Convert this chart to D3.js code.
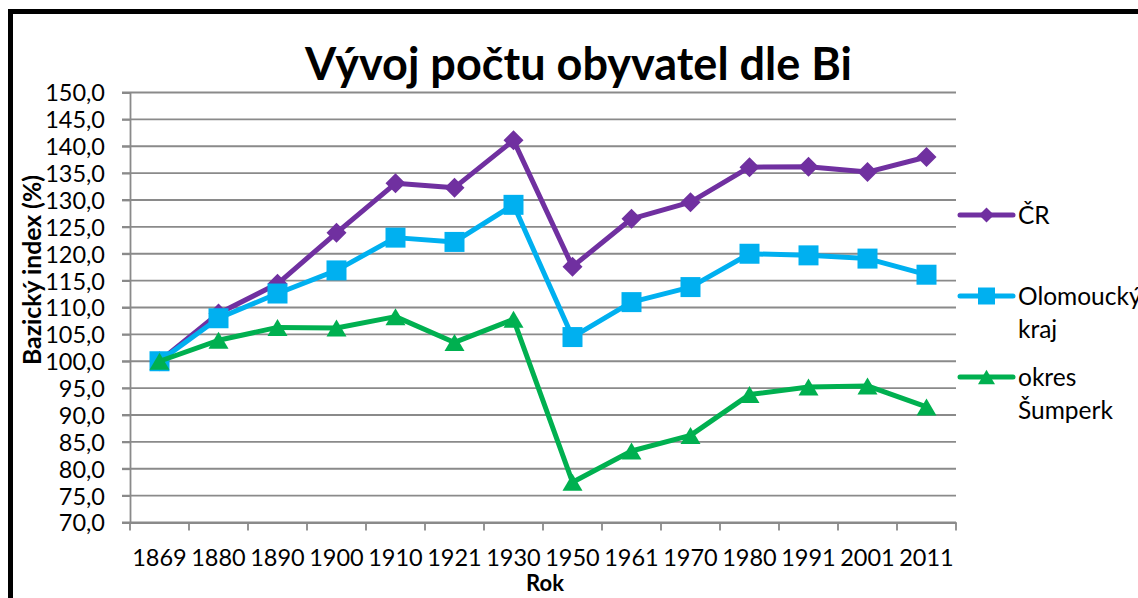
<!DOCTYPE html>
<html>
<head>
<meta charset="utf-8">
<script src="https://cdn.jsdelivr.net/npm/d3@7"></script>
<style>
  html, body { margin: 0; padding: 0; background: #fff; }
  svg { display: block; }
  text { font-family: Lato, "Open Sans", sans-serif; fill: #000; }
</style>
</head>
<body>
<svg id="chart" width="1138" height="598"></svg>
<script>
const years = ["1869","1880","1890","1900","1910","1921","1930","1950","1961","1970","1980","1991","2001","2011"];
const crValues = [100, 108.9, 114.4, 123.9, 133.1, 132.3, 141.1, 117.6, 126.5, 129.6, 136.1, 136.2, 135.2, 138.0];
const olomouckyValues = [100, 108.0, 112.6, 116.9, 123.0, 122.2, 129.1, 104.5, 111.0, 113.8, 120.0, 119.7, 119.1, 116.1];
const sumperkValues = [100, 103.9, 106.3, 106.2, 108.3, 103.5, 107.8, 77.5, 83.3, 86.2, 93.8, 95.2, 95.4, 91.5];
const yTicks = [70,75,80,85,90,95,100,105,110,115,120,125,130,135,140,145,150];
const seriesNames = [["ČR"], ["Olomoucký", "kraj"], ["okres", "Šumperk"]];
const seriesColors = ["#7030A0", "#00B0F0", "#00B050"];
const seriesShapes = ["diamond", "square", "triangle"];
const titleText = "Vývoj počtu obyvatel dle Bi";
const yTitle = "Bazický index (%)";
const xTitle = "Rok";

const series = [crValues, olomouckyValues, sumperkValues].map((v, i) => ({
  name: seriesNames[i], color: seriesColors[i], shape: seriesShapes[i], values: v
}));

const svg = d3.select("#chart");
const plot = { left: 130, right: 956, top: 92.5, bottom: 522.5 };

const x = d3.scaleBand().domain(years).range([plot.left, plot.right]);
const y = d3.scaleLinear().domain([70, 150]).range([plot.bottom, plot.top]);
const cx = d => x(d) + x.bandwidth() / 2;

const fmt = v => d3.format(".1f")(v).replace(".", ",");

// border
svg.append("rect").attr("x", 10.5).attr("y", 11.5).attr("width", 1400).attr("height", 800)
  .attr("fill", "none").attr("stroke", "#000").attr("stroke-width", 5);

function fitText(sel, target) {
  const w = sel.node().getComputedTextLength();
  const fs = parseFloat(sel.attr("font-size"));
  sel.attr("font-size", fs * target / w);
}

// gridlines
const gridColor = "#8a8a8a";
svg.append("g").selectAll("line").data(yTicks).join("line")
  .attr("x1", plot.left - 8).attr("x2", plot.right)
  .attr("y1", d => y(d)).attr("y2", d => y(d))
  .attr("stroke", gridColor).attr("stroke-width", 1.8);

// y axis via d3
const yAxis = svg.append("g").attr("transform", `translate(${plot.left},0)`)
  .call(d3.axisLeft(y).tickValues(yTicks).tickFormat(fmt).tickSize(8).tickPadding(17));
yAxis.select(".domain").attr("stroke", gridColor).attr("stroke-width", 1.8);
yAxis.selectAll(".tick line").attr("stroke", gridColor).attr("stroke-width", 1.8);
yAxis.selectAll(".tick text").attr("font-size", 23.5).attr("font-family", "Lato").attr("fill", "#000").attr("dy", "0.36em");

// x axis
const xAxis = svg.append("g").attr("transform", `translate(0,${plot.bottom})`)
  .call(d3.axisBottom(x).tickSize(0).tickPadding(27));
xAxis.select(".domain").attr("stroke", gridColor).attr("stroke-width", 1.8);
xAxis.selectAll(".tick text").attr("font-size", 23.5).attr("font-family", "Lato").attr("fill", "#000");
// category boundary ticks
const bounds = years.map(d => x(d)).concat([plot.right]);
svg.append("g").selectAll("line").data(bounds).join("line")
  .attr("x1", d => d).attr("x2", d => d)
  .attr("y1", plot.bottom).attr("y2", plot.bottom + 8)
  .attr("stroke", gridColor).attr("stroke-width", 1.8);

// title
const t = svg.append("text").attr("x", 578.5).attr("y", 80).attr("text-anchor", "middle")
  .attr("font-weight", "bold").attr("font-size", 40).text(titleText);
fitText(t, 547);

// axis titles
const yt = svg.append("text").attr("transform", "translate(41,270) rotate(-90)")
  .attr("text-anchor", "middle").attr("font-weight", "bold").attr("font-size", 20).text(yTitle);
fitText(yt, 190);
svg.append("text").attr("x", 545).attr("y", 591).attr("text-anchor", "middle")
  .attr("font-weight", "bold").attr("font-size", 22).text(xTitle);

function markerPath(shape, s) {
  if (shape === "diamond") return `M0,${-s}L${s},0L0,${s}L${-s},0Z`;
  if (shape === "square") return `M${-s},${-s}H${s}V${s}H${-s}Z`;
  const h = s * 0.85;
  return `M0,${-h}L${s},${h}L${-s},${h}Z`;
}
const markerSize = { diamond: 10, square: 10, triangle: 10 };
const legendMarkerSize = { diamond: 7.5, square: 8.5, triangle: 8.5 };

const line = d3.line().x((d, i) => cx(years[i])).y(d => y(d));

series.forEach(s => {
  const g = svg.append("g");
  g.append("path").attr("d", line(s.values)).attr("fill", "none")
    .attr("stroke", s.color).attr("stroke-width", 5).attr("stroke-linejoin", "round");
  g.selectAll("path.m").data(s.values).join("path").attr("class", "m")
    .attr("transform", (d, i) => `translate(${cx(years[i])},${y(d)})`)
    .attr("d", markerPath(s.shape, markerSize[s.shape]))
    .attr("fill", s.color);
});

// legend
const legendY = [215, 296, 377];
series.forEach((s, i) => {
  const g = svg.append("g").attr("transform", `translate(0,${legendY[i]})`);
  g.append("line").attr("x1", 960).attr("x2", 1013).attr("stroke", s.color)
    .attr("stroke-width", 5).attr("stroke-linecap", "round");
  g.append("path").attr("transform", "translate(986.5,0)")
    .attr("d", markerPath(s.shape, legendMarkerSize[s.shape])).attr("fill", s.color);
  s.name.forEach((n, j) => {
    g.append("text").attr("x", 1018).attr("y", 8.5 + j * 33).attr("font-size", 24.5).text(n);
  });
});
</script>
</body>
</html>
